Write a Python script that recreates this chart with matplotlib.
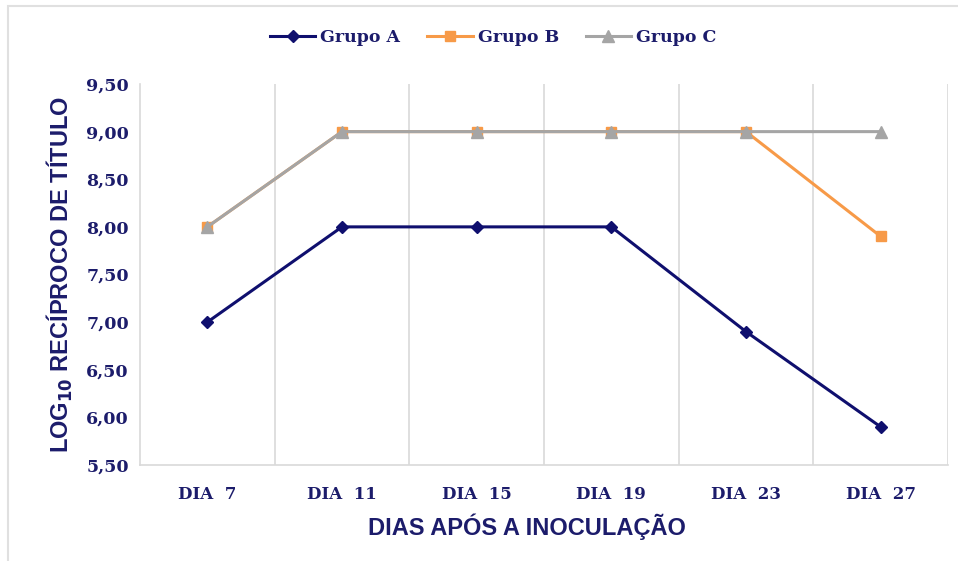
import matplotlib.pyplot as plt
from matplotlib.patches import Rectangle
from matplotlib import font_manager

# dados
dias = ["DIA 7", "DIA 11", "DIA 15", "DIA 19", "DIA 23", "DIA 27"]
grupo_a = [7.0, 8.0, 8.0, 8.0, 6.9, 5.9]
grupo_b = [8.0, 9.0, 9.0, 9.0, 9.0, 7.9]
grupo_c = [8.0, 9.0, 9.0, 9.0, 9.0, 9.0]
yticks = [5.5, 6.0, 6.5, 7.0, 7.5, 8.0, 8.5, 9.0, 9.5]

txt = "#1c1c6b"
grid = "#d9d9d9"

nomes = set(f.name for f in font_manager.fontManager.ttflist)
narrow = "Liberation Sans Narrow" if "Liberation Sans Narrow" in nomes else "Liberation Sans"

fig = plt.figure(figsize=(9.58, 5.61), dpi=100, facecolor="white")
ax = fig.add_axes([140/958, 1-465/561, 808/958, 381/561])

x = list(range(len(dias)))
ax.plot(x, grupo_a, color="#0f0f6e", lw=2.2, marker="D", ms=6, label="Grupo A", zorder=3)
ax.plot(x, grupo_b, color="#f79a48", lw=2.2, marker="s", ms=7, label="Grupo B", zorder=3)
ax.plot(x, grupo_c, color="#a5a5a5", lw=2.2, marker="^", ms=8, label="Grupo C", zorder=4)

ax.set_xlim(-0.5, len(dias) - 0.5)
ax.set_ylim(5.5, 9.5)
for i in range(len(dias)):
    ax.axvline(i + 0.5, color=grid, lw=1.2, zorder=1)

ax.set_yticks(yticks)
ax.set_yticklabels([("%.2f" % v).replace(".", ",") for v in yticks],
                   family="DejaVu Serif", fontweight="bold", fontsize=12.5, color=txt)
ax.set_xticks(x)
ax.set_xticklabels([d.replace(" ", "  ") for d in dias], family="DejaVu Serif",
                   fontweight="bold", fontsize=12, color=txt)
ax.tick_params(length=0, pad=8)
ax.tick_params(axis="x", pad=15)

for s in ["top", "right"]:
    ax.spines[s].set_visible(False)
for s in ["left", "bottom"]:
    ax.spines[s].set_color(grid)
    ax.spines[s].set_linewidth(1.2)

ax.set_xlabel("DIAS APÓS A INOCULAÇÃO", family=narrow, fontweight="bold",
              fontsize=17, color=txt, labelpad=8)
ax.xaxis.label.set_x(0.479)
ax.set_ylabel(r"LOG$_\mathbf{10}$ RECÍPROCO DE TÍTULO", family=narrow,
              fontweight="bold", fontsize=17, color=txt, labelpad=8)

leg = fig.legend(loc="center", bbox_to_anchor=(0.515, 1-38/561), ncol=3, frameon=False,
                 prop={"family": "DejaVu Serif", "weight": "bold", "size": 12.5},
                 handlelength=2.6, columnspacing=1.55, handletextpad=0.3)
for t in leg.get_texts():
    t.set_color(txt)

fig.add_artist(Rectangle((8/958, -0.05), 1.1, 1 - 6/561 + 0.05, transform=fig.transFigure,
                         fill=False, edgecolor="#e0e0e0", lw=1.5))

fig.savefig("out.png", dpi=100, facecolor="white")
